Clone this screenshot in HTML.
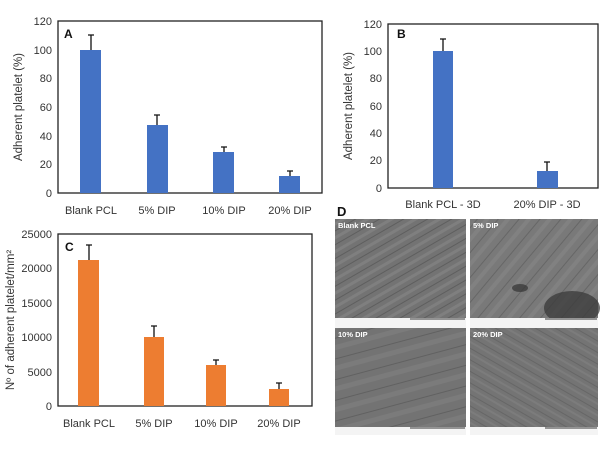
<!DOCTYPE html>
<html><head><style>
body{margin:0;background:#fff;width:600px;height:447px;overflow:hidden;font-family:"Liberation Sans",sans-serif}
</style></head><body>
<svg width="600" height="447" xmlns="http://www.w3.org/2000/svg" font-family="Liberation Sans, sans-serif">
<defs>
<pattern id="st1" width="12" height="12" patternUnits="userSpaceOnUse" patternTransform="rotate(-30)"><rect width="12" height="12" fill="#737373"/><rect width="12" height="3" fill="#7f7f7f"/><rect y="7" width="12" height="1" fill="#5e5e5e"/></pattern>
<pattern id="st2" width="16" height="16" patternUnits="userSpaceOnUse" patternTransform="rotate(-50)"><rect width="16" height="16" fill="#797979"/><rect width="16" height="4" fill="#818181"/><rect y="10" width="16" height="1" fill="#666"/></pattern>
<pattern id="st3" width="20" height="20" patternUnits="userSpaceOnUse" patternTransform="rotate(-15)"><rect width="20" height="20" fill="#737373"/><rect width="20" height="5" fill="#7b7b7b"/><rect y="13" width="20" height="1" fill="#616161"/></pattern>
<pattern id="st4" width="10" height="10" patternUnits="userSpaceOnUse" patternTransform="rotate(30)"><rect width="10" height="10" fill="#747474"/><rect width="10" height="2" fill="#7c7c7c"/><rect y="6" width="10" height="1" fill="#666"/></pattern>
</defs>
<g font-size="11" fill="#333">
<rect x="58" y="21" width="264" height="172" fill="none" stroke="#222" stroke-width="1.3"/>
<g text-anchor="end">
<text x="52" y="25">120</text><text x="52" y="54">100</text><text x="52" y="82">80</text><text x="52" y="111">60</text><text x="52" y="140">40</text><text x="52" y="168">20</text><text x="52" y="197">0</text></g>
<text transform="translate(22,107) rotate(-90)" text-anchor="middle" font-size="11.5">Adherent platelet (%)</text>
<text x="64" y="38" font-weight="bold" font-size="12" fill="#111">A</text>
<g fill="#4472c4"><rect x="80" y="50" width="21" height="143"/><rect x="147" y="125" width="21" height="68"/><rect x="213" y="152" width="21" height="41"/><rect x="279" y="176" width="21" height="17"/></g>
<g stroke="#111" stroke-width="1.3"><path d="M91 50V35M88 35h6M157 125V115M154 115h6M224 152V147M221 147h6M290 176V171M287 171h6"/></g>
<g text-anchor="middle"><text x="91" y="214">Blank PCL</text><text x="157" y="214">5% DIP</text><text x="224" y="214">10% DIP</text><text x="290" y="214">20% DIP</text></g>
<rect x="388" y="24" width="210" height="164" fill="none" stroke="#222" stroke-width="1.3"/>
<g text-anchor="end">
<text x="382" y="28">120</text><text x="382" y="55">100</text><text x="382" y="82">80</text><text x="382" y="110">60</text><text x="382" y="137">40</text><text x="382" y="164">20</text><text x="382" y="192">0</text></g>
<text transform="translate(352,106) rotate(-90)" text-anchor="middle" font-size="11.5">Adherent platelet (%)</text>
<text x="397" y="38" font-weight="bold" font-size="12" fill="#111">B</text>
<g fill="#4472c4"><rect x="433" y="51" width="20" height="137"/><rect x="537" y="171" width="21" height="17"/></g>
<g stroke="#111" stroke-width="1.3"><path d="M443 51V39M440 39h6M547 171V162M544 162h6"/></g>
<g text-anchor="middle"><text x="443" y="208">Blank PCL - 3D</text><text x="547" y="208">20% DIP - 3D</text></g>
<rect x="58" y="234" width="254" height="172" fill="none" stroke="#222" stroke-width="1.3"/>
<g text-anchor="end">
<text x="52" y="238">25000</text><text x="52" y="272">20000</text><text x="52" y="307">15000</text><text x="52" y="341">10000</text><text x="52" y="376">5000</text><text x="52" y="410">0</text></g>
<text transform="translate(14,320) rotate(-90)" text-anchor="middle" font-size="11.5">Nº of adherent platelet/mm²</text>
<text x="65" y="251" font-weight="bold" font-size="12" fill="#111">C</text>
<g fill="#ed7d31"><rect x="78" y="260" width="21" height="146"/><rect x="144" y="337" width="20" height="69"/><rect x="206" y="365" width="20" height="41"/><rect x="269" y="389" width="20" height="17"/></g>
<g stroke="#111" stroke-width="1.3"><path d="M89 260V245M86 245h6M154 337V326M151 326h6M216 365V360M213 360h6M279 389V383M276 383h6"/></g>
<g text-anchor="middle"><text x="89" y="427">Blank PCL</text><text x="154" y="427">5% DIP</text><text x="216" y="427">10% DIP</text><text x="279" y="427">20% DIP</text></g>
<text x="337" y="216" font-weight="bold" font-size="13" fill="#111">D</text>
<rect x="335" y="219" width="131" height="99" fill="url(#st1)"/>
<rect x="470" y="219" width="128" height="99" fill="url(#st2)"/>
<ellipse cx="572" cy="308" rx="28" ry="17" fill="#3a3a3a" opacity="0.75"/>
<ellipse cx="520" cy="288" rx="8" ry="4" fill="#333" opacity="0.7"/>
<rect x="335" y="328" width="131" height="99" fill="url(#st3)"/>
<rect x="470" y="328" width="128" height="99" fill="url(#st4)"/>
<g fill="#fff" font-size="7.5" font-weight="bold"><text x="338" y="228">Blank PCL</text><text x="473" y="228">5% DIP</text><text x="338" y="337">10% DIP</text><text x="473" y="337">20% DIP</text></g>
<g fill="#f4f4f4"><rect x="335" y="318" width="131" height="10"/><rect x="470" y="318" width="128" height="10"/><rect x="335" y="427" width="131" height="8"/><rect x="470" y="427" width="128" height="8"/></g>
<g stroke="#333"><path d="M410 319h55M545 319h52M410 428h55M545 428h52"/></g>
</g>
</svg>
</body></html>
